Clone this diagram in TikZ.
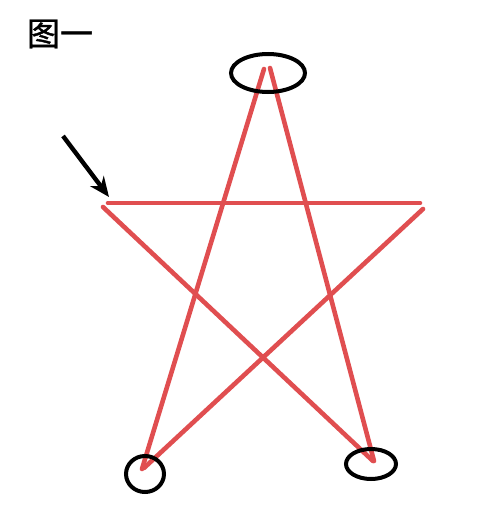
\documentclass[tikz,border=0pt]{standalone}
\usepackage{fontspec}
\newfontfamily\cjk[FakeBold=1.2]{Noto Sans CJK SC}
\usetikzlibrary{arrows.meta}
\definecolor{starred}{RGB}{224,78,80}
\tikzset{
  starline/.style={draw=starred, line width=4.6pt, line cap=round},
  ring/.style={draw=black, line width=4pt},
  pointer/.style={draw=black, line width=4.4pt, -{Stealth[length=20pt,width=17pt]}}
}
\begin{document}
\begin{tikzpicture}[x=1pt,y=-1pt]
\useasboundingbox (0,0) rectangle (481,514);
\node[font=\cjk\fontsize{33}{33}\selectfont, inner sep=0pt] (title) at (60,34) {图一};
% star stroke ends
\coordinate (hl) at (108,203);
\coordinate (hr) at (420,203);
\coordinate (ls) at (103,207);
\coordinate (le) at (373,461);
\coordinate (rs) at (423,209);
\coordinate (re) at (144,468);
\coordinate (tl) at (264,69);
\coordinate (bl) at (142,469);
\coordinate (tr) at (270,68);
\coordinate (br) at (374,461);
\draw[starline] (hl) -- (hr);
\draw[starline] (ls) -- (le);
\draw[starline] (rs) -- (re);
\draw[starline] (tl) -- (bl);
\draw[starline] (tr) -- (br);
% circles
\draw[ring] (268,73) ellipse [x radius=37, y radius=19];
\draw[ring] (145,474) ellipse [x radius=19, y radius=18];
\draw[ring] (371,464) ellipse [x radius=25, y radius=15];
% arrow
\coordinate (as) at (63,136);
\coordinate (ae) at (109,197);
\draw[pointer] (as) -- (ae);
\end{tikzpicture}
\end{document}
